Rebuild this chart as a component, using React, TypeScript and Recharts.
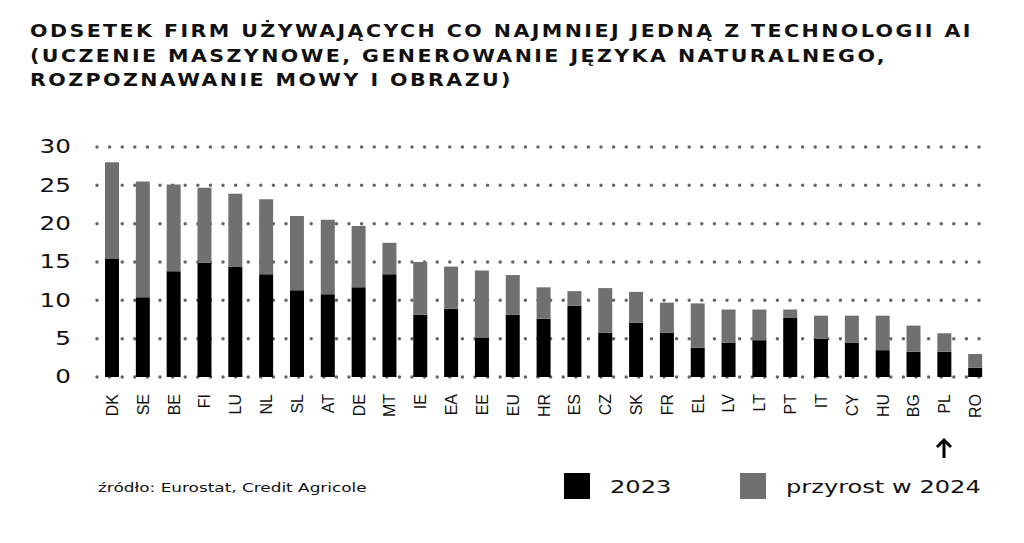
import React from "react";
import { BarChart, Bar, CartesianGrid, XAxis, YAxis } from "recharts";

const countries = [
  "DK", "SE", "BE", "FI", "LU", "NL", "SL", "AT", "DE", "MT",
  "IE", "EA", "EE", "EU", "HR", "ES", "CZ", "SK", "FR", "EL",
  "LV", "LT", "PT", "IT", "CY", "HU", "BG", "PL", "RO",
];

// share of firms in 2023 (%)
const base2023 = [
  15.4, 10.4, 13.8, 14.9, 14.4, 13.4, 11.3, 10.8, 11.7, 13.4,
  8.1, 8.9, 5.1, 8.1, 7.6, 9.3, 5.8, 7.1, 5.8, 3.8,
  4.5, 4.8, 7.7, 5.0, 4.5, 3.5, 3.3, 3.3, 1.2,
];

// increase in 2024 (percentage points)
const growth2024 = [
  12.6, 15.1, 11.3, 9.8, 9.5, 9.8, 9.7, 9.7, 8.0, 4.1,
  6.9, 5.5, 8.8, 5.2, 4.1, 1.9, 5.8, 4.0, 3.9, 5.8,
  4.3, 4.0, 1.1, 3.0, 3.5, 4.5, 3.4, 2.4, 1.8,
];

const yTicks = [0, 5, 10, 15, 20, 25, 30];

const titleLines = [
  "ODSETEK FIRM UŻYWAJĄCYCH CO NAJMNIEJ JEDNĄ Z TECHNOLOGII AI",
  "(UCZENIE MASZYNOWE, GENEROWANIE JĘZYKA NATURALNEGO,",
  "ROZPOZNAWANIE MOWY I OBRAZU)",
];

const data = countries.map((c, i) => ({
  name: c,
  y2023: base2023[i],
  inc: growth2024[i],
}));

const GRAY = "#707070";

const YTick = (props: any) => {
  const { y, payload } = props;
  return (
    <text
      transform={`translate(71, ${y}) scale(1.3, 1)`}
      x={0}
      y={0}
      textAnchor="end"
      dominantBaseline="central"
      fontFamily="DejaVu Sans"
      fontSize={19}
      fill="#111"
    >
      {payload.value}
    </text>
  );
};

const XTick = (props: any) => {
  const { x, y, payload } = props;
  const ty = y + 9;
  return (
    <text
      x={x}
      y={ty}
      transform={`rotate(-90, ${x}, ${ty})`}
      textAnchor="end"
      dominantBaseline="central"
      fontFamily="Liberation Sans"
      fontSize={16}
      fill="#111"
    >
      {payload.value}
    </text>
  );
};

const wide = (s: number): React.CSSProperties => ({
  transform: `scaleX(${s})`,
  transformOrigin: "left top",
  whiteSpace: "nowrap",
});

const App: React.FC = () => {
  return (
    <div
      style={{
        position: "absolute",
        left: 0,
        top: 0,
        width: 1024,
        height: 543,
        background: "#fff",
        overflow: "hidden",
      }}
    >
      <div
        style={{
          position: "absolute",
          left: 30,
          top: 19,
          fontFamily: "DejaVu Sans",
          fontWeight: 700,
          fontSize: 17,
          lineHeight: "24.5px",
          letterSpacing: 2,
          color: "#111",
          ...wide(1.21),
        }}
      >
        {titleLines.map((t) => (
          <div key={t}>{t}</div>
        ))}
      </div>

      <div style={{ position: "absolute", left: 0, top: 0 }}>
        <BarChart
          width={1024}
          height={543}
          data={data}
          margin={{ top: 147, right: 33, bottom: 106, left: 0 }}
          barCategoryGap={0}
        >
          <CartesianGrid
            vertical={false}
            stroke="#666"
            strokeWidth={3.5}
            strokeDasharray="0 12.6"
            strokeLinecap="round"
          />
          <XAxis
            dataKey="name"
            axisLine={false}
            tickLine={false}
            interval={0}
            height={60}
            tick={<XTick />}
          />
          <YAxis
            width={97}
            domain={[0, 30]}
            ticks={yTicks}
            axisLine={false}
            tickLine={false}
            tick={<YTick />}
          />
          <Bar dataKey="y2023" stackId="a" fill="#000" barSize={14} isAnimationActive={false} />
          <Bar dataKey="inc" stackId="a" fill={GRAY} barSize={14} isAnimationActive={false} />
        </BarChart>
      </div>

      <svg
        width={20}
        height={22}
        style={{ position: "absolute", left: 934, top: 437 }}
      >
        <path d="M10 21 L10 4" stroke="#000" strokeWidth={3} />
        <path d="M3 10 L10 3 L17 10" stroke="#000" strokeWidth={3} fill="none" />
      </svg>

      <div
        style={{
          position: "absolute",
          left: 98,
          top: 480,
          fontFamily: "DejaVu Sans",
          fontSize: 12.5,
          color: "#111",
          ...wide(1.35),
        }}
      >
        źródło: Eurostat, Credit Agricole
      </div>

      <div style={{ position: "absolute", left: 564, top: 473, width: 26, height: 26, background: "#000" }} />
      <div
        style={{
          position: "absolute",
          left: 610,
          top: 476,
          fontFamily: "DejaVu Sans",
          fontSize: 18,
          color: "#111",
          ...wide(1.34),
        }}
      >
        2023
      </div>
      <div style={{ position: "absolute", left: 740, top: 473, width: 26, height: 26, background: GRAY }} />
      <div
        style={{
          position: "absolute",
          left: 786,
          top: 476,
          fontFamily: "DejaVu Sans",
          fontSize: 18,
          color: "#111",
          ...wide(1.34),
        }}
      >
        przyrost w 2024
      </div>
    </div>
  );
};

export default App;
